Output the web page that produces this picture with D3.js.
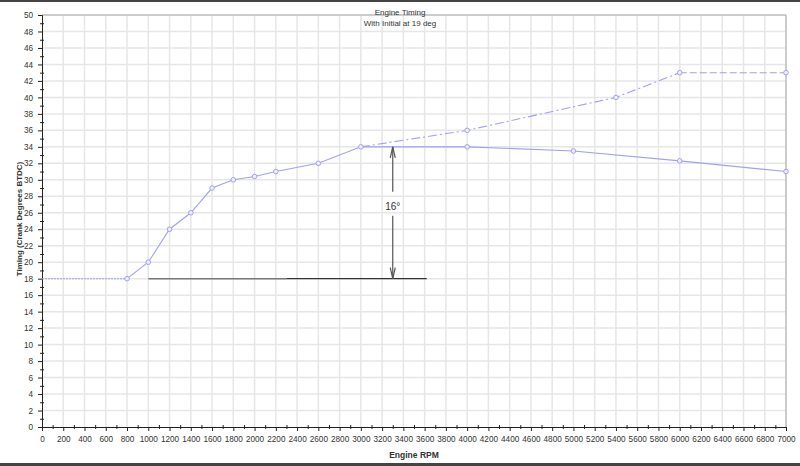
<!DOCTYPE html>
<html>
<head>
<meta charset="utf-8">
<script src="https://cdn.jsdelivr.net/npm/d3@7"></script>
<style>
  body { margin: 0; background: #fff; }
  text { font-family: "Liberation Sans", Arial, sans-serif; fill: #333; }
</style>
</head>
<body>
<svg width="800" height="466"></svg>
<script>
// Data
var rpm = [800, 1000, 1200, 1400, 1600, 1800, 2000, 2200, 2600, 3000, 4000, 5000, 6000, 7000];
var timing = [18, 20, 24, 26, 29, 30, 30.4, 31, 32, 34, 34, 33.5, 32.3, 31];
var idleRpm = [0, 800];
var idleTiming = [18, 18];
var advRpm = [3000, 4000, 5400, 6000];
var advTiming = [34, 36, 40, 43];
var topRpm = [6000, 7000];
var topTiming = [43, 43];
var baseRpm = [1000, 2300, 3620];   // reference line at initial timing
var baseTiming = 18;
var arrowRpm = 3300;
var arrowFrom = 18, arrowTo = 34;
var arrowLabel = "16°";

var xTicks = d3.range(0, 7001, 200);
var yTicks = d3.range(0, 51, 2);

// The svg
var svg = d3.select("svg"),
    width = +svg.attr("width"),
    height = +svg.attr("height");

var x = d3.scaleLinear().domain([0, 7000]).range([42, 786]);
var y = d3.scaleLinear().domain([0, 50]).range([427, 15]);

// frame bands
svg.append("rect").attr("x", 0).attr("y", 0).attr("width", width).attr("height", 2).attr("fill", "#444");
svg.append("rect").attr("x", 0).attr("y", 463).attr("width", width).attr("height", 3).attr("fill", "#444");

// grid
var grid = svg.append("g").attr("stroke", "#e6e6e6").attr("stroke-width", 1.5);
grid.selectAll("line.v").data(xTicks.slice(1)).enter().append("line")
    .attr("x1", d => x(d)).attr("x2", d => x(d))
    .attr("y1", y(0)).attr("y2", y(50));
grid.selectAll("line.h").data(yTicks.slice(1)).enter().append("line")
    .attr("x1", x(0)).attr("x2", x(7000))
    .attr("y1", d => y(d)).attr("y2", d => y(d));

// plot border top / right
svg.append("path")
    .attr("d", "M" + x(0) + "," + y(50) + "H" + x(7000) + "V" + y(0))
    .attr("fill", "none").attr("stroke", "#aaa").attr("stroke-width", 1);

// axes
var yAxis = svg.append("g").attr("transform", "translate(" + x(0) + ",0)")
    .call(d3.axisLeft(y).tickValues(yTicks).tickSize(4).tickPadding(5));
var yMinor = svg.append("g").attr("transform", "translate(" + (x(0) + 2) + ",0)")
    .call(d3.axisLeft(y).tickValues(d3.range(1, 50, 2)).tickSize(4).tickFormat(""));
yMinor.select(".domain").remove();

var xAxis = svg.append("g").attr("transform", "translate(0," + y(0) + ")")
    .call(d3.axisBottom(x).tickValues(xTicks).tickSize(4).tickPadding(5).tickFormat(d3.format("d")));
var xMinor = svg.append("g").attr("transform", "translate(0," + (y(0) - 2) + ")")
    .call(d3.axisBottom(x).tickValues(d3.range(100, 7000, 200)).tickSize(4).tickFormat(""));
xMinor.select(".domain").remove();

svg.selectAll(".tick text").attr("font-size", 8.2).attr("fill", "#333")
    .attr("font-family", "Liberation Sans, Arial, sans-serif");
svg.selectAll(".domain, .tick line").attr("stroke", "#222");

// titles
svg.append("text").attr("x", 400).attr("y", 14.5).attr("text-anchor", "middle")
    .attr("font-size", 8).text("Engine Timing");
svg.append("text").attr("x", 400).attr("y", 25.5).attr("text-anchor", "middle")
    .attr("font-size", 8).text("With Initial  at 19 deg");
svg.append("text").attr("x", 414).attr("y", 458).attr("text-anchor", "middle")
    .attr("font-size", 8.5).attr("font-weight", "bold").text("Engine RPM");
svg.append("text").attr("transform", "translate(22,219) rotate(-90)").attr("text-anchor", "middle")
    .attr("font-size", 8).attr("font-weight", "bold").text("Timing (Crank Degrees BTDC)");

// series
var lineColor = "#a0a0f6";
var line = d3.line().x(d => x(d[0])).y(d => y(d[1]));

function drawSeries(xs, ys, dash) {
    svg.append("path")
        .datum(d3.zip(xs, ys))
        .attr("fill", "none")
        .attr("stroke", lineColor)
        .attr("stroke-width", 1.1)
        .attr("stroke-dasharray", dash)
        .attr("d", line);
}
drawSeries(idleRpm, idleTiming, "2,1");
drawSeries(rpm, timing, null);
drawSeries(advRpm, advTiming, "9,3,2,3");
drawSeries(topRpm, topTiming, "7,3");

var pts = d3.zip(rpm, timing).concat(d3.zip(advRpm, advTiming).slice(1), [[topRpm[1], topTiming[1]]]);
svg.append("g").selectAll("circle").data(pts).enter().append("circle")
    .attr("cx", d => x(d[0])).attr("cy", d => y(d[1])).attr("r", 2.3)
    .attr("fill", "#eeeeff").attr("stroke", lineColor).attr("stroke-width", 1);

// reference line at initial timing
svg.append("line")
    .attr("x1", x(baseRpm[0])).attr("x2", x(baseRpm[1]))
    .attr("y1", y(baseTiming)).attr("y2", y(baseTiming))
    .attr("stroke", "#777").attr("stroke-width", 1.5);
svg.append("line")
    .attr("x1", x(baseRpm[1])).attr("x2", x(baseRpm[2]))
    .attr("y1", y(baseTiming)).attr("y2", y(baseTiming))
    .attr("stroke", "#333").attr("stroke-width", 1.2);

// dimension arrow
var ax = x(arrowRpm), yTop = y(arrowTo), yBot = y(arrowFrom);
var ymid = (yTop + yBot) / 2 - 6;
var arr = svg.append("g").attr("stroke", "#555").attr("stroke-width", 1.2).attr("fill", "none");
arr.append("line").attr("x1", ax).attr("x2", ax).attr("y1", yTop).attr("y2", ymid - 15);
arr.append("line").attr("x1", ax).attr("x2", ax).attr("y1", ymid + 9).attr("y2", yBot);
arr.append("path").attr("d", "M" + (ax - 2.5) + "," + (yTop + 11) + "L" + ax + "," + yTop + "L" + (ax + 2.5) + "," + (yTop + 11));
arr.append("path").attr("d", "M" + (ax - 2.5) + "," + (yBot - 11) + "L" + ax + "," + yBot + "L" + (ax + 2.5) + "," + (yBot - 11));
svg.append("text").attr("x", ax).attr("y", ymid + 3.5).attr("text-anchor", "middle")
    .attr("font-size", 10).text(arrowLabel);
</script>
</body>
</html>
